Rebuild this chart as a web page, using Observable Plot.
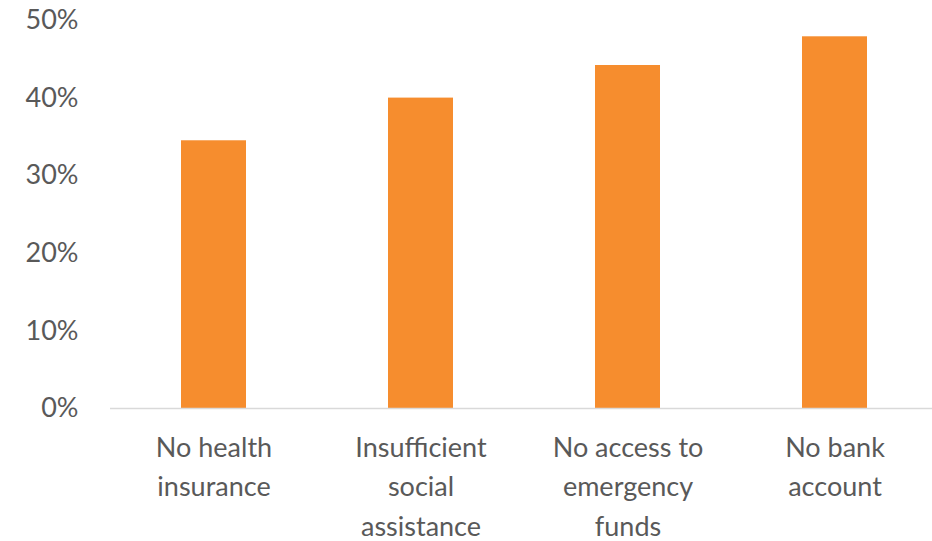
<!DOCTYPE html>
<html>
<head>
<meta charset="utf-8">
<script src="https://cdn.jsdelivr.net/npm/d3@7"></script>
<script src="https://cdn.jsdelivr.net/npm/@observablehq/plot@0.6"></script>
<style>
  html, body { margin: 0; padding: 0; background: #fff; }
  #chart { width: 932px; height: 541px; overflow: hidden; }
</style>
</head>
<body>
<div id="chart"></div>
<script>
const categories = ["No health\ninsurance", "Insufficient\nsocial\nassistance", "No access to\nemergency\nfunds", "No bank\naccount"];
const values = [0.345, 0.40, 0.442, 0.479];
const yTicks = [0, 0.1, 0.2, 0.3, 0.4, 0.5];

const data = categories.map((c, i) => ({category: c, value: values[i]}));

const chart = Plot.plot({
  width: 932,
  height: 541,
  marginLeft: 110,
  marginRight: 0,
  marginTop: 20,
  marginBottom: 133,
  style: {fontFamily: "Lato, 'Open Sans', sans-serif", fontSize: "27px", color: "#595959", background: "#fff"},
  x: {domain: categories, range: [109.5, 937.5], paddingInner: 0.686, paddingOuter: 0.343, align: 0.5, axis: null},
  y: {domain: [0, 0.5], axis: null},
  marks: [
    Plot.axisY({ticks: yTicks, tickFormat: d => Math.round(d * 100) + "%", tickSize: 0, tickPadding: 32, anchor: "left", label: null, fill: "#595959", fontSize: 27}),
    Plot.barY(data, {x: "category", y: "value", fill: "#F68D2E"}),
    Plot.ruleY([0], {stroke: "#d9d9d9", strokeWidth: 1.5, strokeOpacity: 1}),
    Plot.axisX({tickSize: 0, tickPadding: 20, label: null, fill: "#595959", fontSize: 27, lineHeight: 1.47})
  ]
});
document.getElementById("chart").appendChild(chart);
</script>
</body>
</html>
